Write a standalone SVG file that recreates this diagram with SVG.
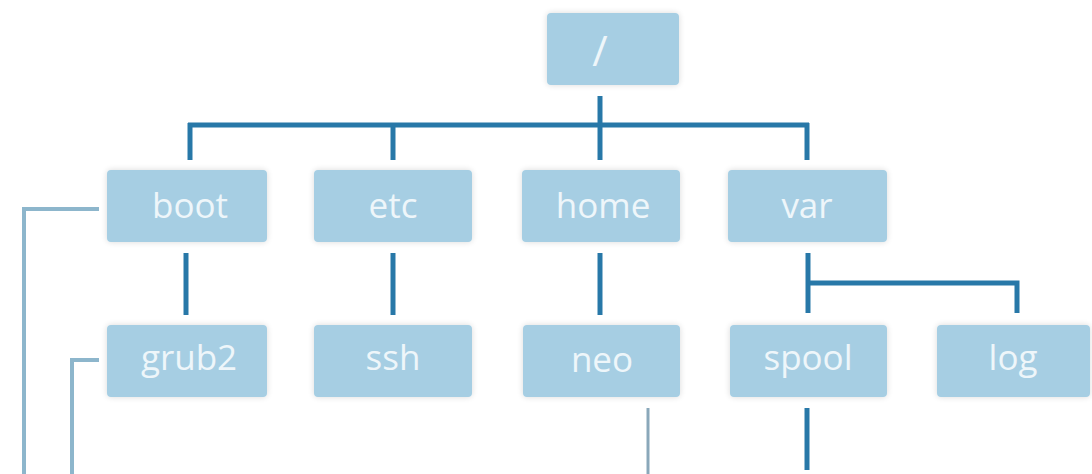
<svg xmlns="http://www.w3.org/2000/svg" width="1092" height="474" viewBox="0 0 1092 474">
  <defs>
    <filter id="glow" x="-10%" y="-20%" width="120%" height="140%">
      <feGaussianBlur in="SourceAlpha" stdDeviation="3"/>
      <feComponentTransfer><feFuncA type="linear" slope="0.15"/></feComponentTransfer>
      <feMerge><feMergeNode/><feMergeNode in="SourceGraphic"/></feMerge>
    </filter>
  </defs>
  <style>
    .box { fill: #a6cee3; filter: url(#glow); }
    .lbl { fill: #eef6fa; font-family: "Open Sans", "DejaVu Sans", sans-serif; font-size: 35px; font-weight: 500; text-anchor: middle; }
    .slash { font-weight: 400; font-size: 42px; }
    .dark { stroke: #2878a8; stroke-width: 5; fill: none; stroke-linecap: butt; }
    .light { stroke: #8db6cc; stroke-width: 4; fill: none; }
    .grey { stroke: #8aa8ba; stroke-width: 3; fill: none; }
  </style>
  <rect width="1092" height="474" fill="#ffffff"/>

  <g id="connectors">
    <path class="dark" d="M600 96 V160"/>
    <path class="dark" d="M188 125 H809"/>
    <path class="dark" d="M190 123 V160"/>
    <path class="dark" d="M393 125 V160"/>
    <path class="dark" d="M807 123 V160"/>
    <path class="dark" d="M186 253 V315"/>
    <path class="dark" d="M393 253 V315"/>
    <path class="dark" d="M600 253 V315"/>
    <path class="dark" d="M808 253 V313"/>
    <path class="dark" d="M808 283 H1017 V313"/>
    <path class="dark" d="M807 408 V470"/>
    <path class="light" d="M99 209 H24 V474"/>
    <path class="light" d="M99 360 H72 V474" stroke="#7fb7cf"/>
    <path class="grey" d="M648 408 V474"/>
  </g>

  <g id="node-root">
    <rect class="box" x="547" y="13" width="132" height="72" rx="4"/>
    <text class="lbl slash" x="600" y="66">/</text>
  </g>
  <g id="node-boot">
    <rect class="box" x="107" y="170" width="160" height="72" rx="4"/>
    <text class="lbl" x="190" y="218">boot</text>
  </g>
  <g id="node-etc">
    <rect class="box" x="314" y="170" width="158" height="72" rx="4"/>
    <text class="lbl" x="393" y="218">etc</text>
  </g>
  <g id="node-home">
    <rect class="box" x="522" y="170" width="158" height="72" rx="4"/>
    <text class="lbl" x="603" y="218">home</text>
  </g>
  <g id="node-var">
    <rect class="box" x="728" y="170" width="159" height="72" rx="4"/>
    <text class="lbl" x="807" y="218">var</text>
  </g>
  <g id="node-grub2">
    <rect class="box" x="107" y="325" width="160" height="72" rx="4"/>
    <text class="lbl" x="189" y="370">grub2</text>
  </g>
  <g id="node-ssh">
    <rect class="box" x="314" y="325" width="158" height="72" rx="4"/>
    <text class="lbl" x="393" y="370">ssh</text>
  </g>
  <g id="node-neo">
    <rect class="box" x="523" y="325" width="157" height="72" rx="4"/>
    <text class="lbl" x="602" y="372">neo</text>
  </g>
  <g id="node-spool">
    <rect class="box" x="730" y="325" width="157" height="72" rx="4"/>
    <text class="lbl" x="808" y="370">spool</text>
  </g>
  <g id="node-log">
    <rect class="box" x="937" y="325" width="153" height="72" rx="4"/>
    <text class="lbl" x="1013" y="370">log</text>
  </g>
</svg>
